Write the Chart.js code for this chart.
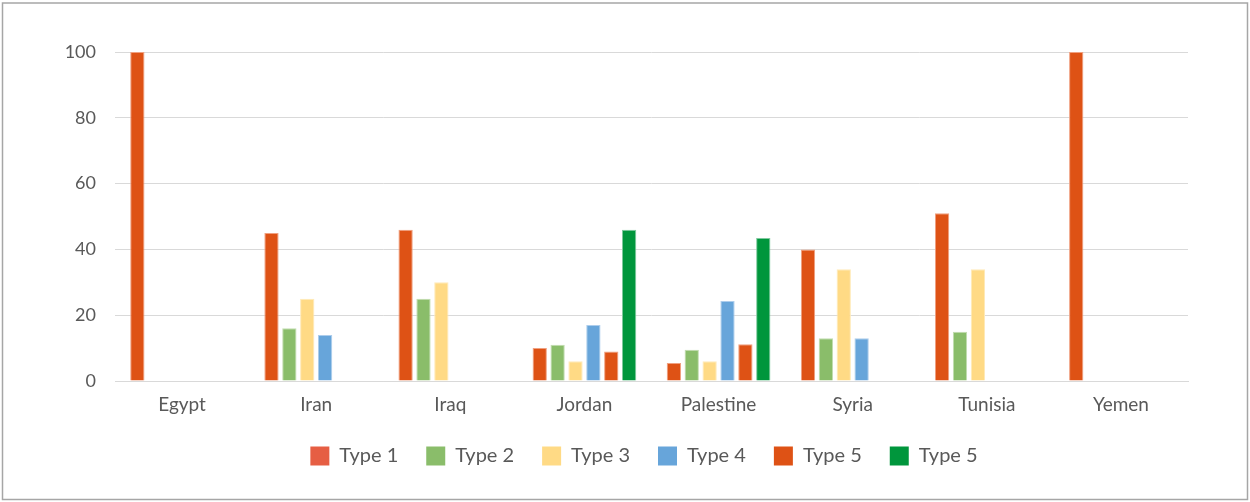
<!DOCTYPE html>
<html>
<head>
<meta charset="utf-8">
<script src="https://cdn.jsdelivr.net/npm/chart.js@4.4.1/dist/chart.umd.min.js"></script>
<style>
  html, body { margin: 0; padding: 0; background: #ffffff; }
  #wrap { width: 1250px; height: 502px; position: relative; }
</style>
</head>
<body>
<div id="wrap"><canvas id="c" width="1250" height="502"></canvas></div>
<script>
const categories = ['Egypt', 'Iran', 'Iraq', 'Jordan', 'Palestine', 'Syria', 'Tunisia', 'Yemen'];
const seriesNames = ['Type 1', 'Type 2', 'Type 3', 'Type 4', 'Type 5', 'Type 5'];
const type1 = [100, 45, 46, 10, 5.5, 40, 51, 100];
const type2 = [null, 16, 25, 11, 9.5, 13, 15, null];
const type3 = [null, 25, 30, 6, 6, 34, 34, null];
const type4 = [null, 14, null, 17, 24.3, 13, null, null];
const type5a = [null, null, null, 9, 11.2, null, null, null];
const type5b = [null, null, null, 46, 43.5, null, null, null];
const yTicks = [0, 20, 40, 60, 80, 100];

const barColors = ['#DE5215', '#8ABD6A', '#FFDA85', '#67A5DA', '#DE5215', '#00963C'];
const edgeColors = ['#F0A080', '#C2DDB0', '#FFEAB8', '#ADCDEC', '#F0A080', '#7FC99E'];
const legendColors = ['#E65E43', '#8ABD6A', '#FFDA85', '#67A5DA', '#DE5215', '#00963C'];
const seriesData = [type1, type2, type3, type4, type5a, type5b];

const FONT = 'Lato, "Open Sans", sans-serif';
const TEXT = '#595959';

const frame = {
  id: 'frame',
  afterLayout(chart) {
    // centre the legend on the whole frame, as in the reference
    if (chart.legend) { chart.legend.left += 50; chart.legend.right += 50; }
  },
  beforeDraw(chart) {
    const ctx = chart.ctx;
    ctx.save();
    ctx.fillStyle = '#ffffff';
    ctx.fillRect(0, 0, chart.width, chart.height);
    ctx.strokeStyle = '#A6A6A6';
    ctx.lineWidth = 1.5;
    ctx.strokeRect(2.5, 3, 1245, 496.5);
    ctx.restore();
  }
};

new Chart(document.getElementById('c'), {
  type: 'bar',
  data: {
    labels: categories,
    datasets: seriesData.map((d, i) => ({
      label: seriesNames[i],
      data: d,
      backgroundColor: barColors[i],
      borderColor: edgeColors[i],
      borderWidth: 1,
      categoryPercentage: 0.8,
      barPercentage: 0.8
    }))
  },
  options: {
    responsive: false,
    animation: false,
    devicePixelRatio: 1,
    layout: { padding: { left: 0, right: 62, top: 52, bottom: 26 } },
    scales: {
      x: {
        grid: { display: false, drawTicks: false },
        border: { display: true, color: '#D9D9D9', width: 1 },
        ticks: { color: TEXT, font: { family: FONT, size: 19 }, padding: 12 },
        afterFit(scale) { scale.height = 37; }
      },
      y: {
        min: 0, max: 100,
        afterBuildTicks(scale) { scale.ticks = yTicks.map(v => ({ value: v })); },
        grid: { color: '#D9D9D9', lineWidth: 1, drawTicks: false },
        border: { display: false },
        ticks: { color: TEXT, font: { family: FONT, size: 18 }, padding: 19 },
        afterFit(scale) { scale.width = 115; }
      }
    },
    plugins: {
      tooltip: { enabled: false },
      legend: {
        position: 'bottom',
        labels: {
          color: TEXT,
          font: { family: FONT, size: 20 },
          boxWidth: 19,
          boxHeight: 19,
          padding: 28,
          generateLabels(chart) {
            return chart.data.datasets.map((ds, i) => ({
              text: ds.label,
              fillStyle: legendColors[i],
              strokeStyle: legendColors[i],
              lineWidth: 0,
              hidden: false,
              datasetIndex: i,
              fontColor: TEXT
            }));
          }
        }
      }
    }
  },
  plugins: [frame]
});
</script>
</body>
</html>
